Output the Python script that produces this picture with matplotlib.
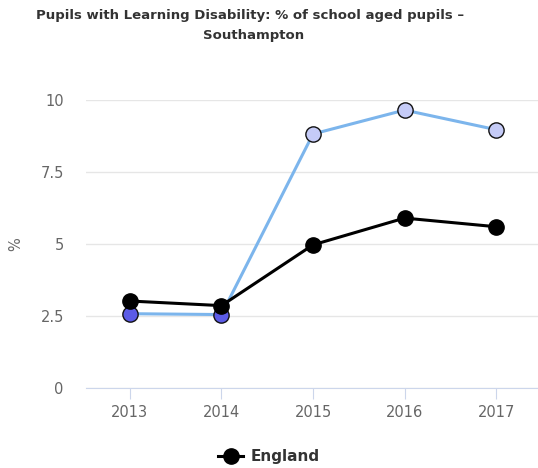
import matplotlib
matplotlib.use("Agg")
import matplotlib.pyplot as plt
from matplotlib.lines import Line2D

years = ["2013", "2014", "2015", "2016", "2017"]
england = [3.02, 2.86, 4.97, 5.90, 5.60]
southampton = [2.58, 2.55, 8.82, 9.65, 8.97]
soton_marker_colors = ["#5b5be6", "#5b5be6", "#c5cbf7", "#c5cbf7", "#c5cbf7"]
yticks = [0, 2.5, 5, 7.5, 10]
ytick_labels = ["0", "2.5", "5", "7.5", "10"]

fig = plt.figure(figsize=(5.38, 4.68), dpi=100)
ax = fig.add_axes([86/538, 1 - 388/468, (540 - 86)/538, (388 - 100)/468])

x = list(range(len(years)))
ax.plot(x, southampton, color="#7cb5ec", lw=2.2, zorder=3, clip_on=False)
for xi, yi, c in zip(x, southampton, soton_marker_colors):
    ax.plot([xi], [yi], marker="o", ms=11, mfc=c, mec="#111111", mew=1.0,
            zorder=4, clip_on=False)
ax.plot(x, england, color="black", lw=2.2, marker="o", ms=11, mfc="black",
        mec="black", zorder=5, clip_on=False)

ax.set_xlim(-0.48, 4.48)
ax.set_ylim(0, 10)
ax.set_yticks(yticks)
ax.set_yticklabels(ytick_labels)
ax.set_xticks(x)
ax.set_xticklabels(years)
ax.grid(axis="y", color="#e6e6e6", lw=1)
ax.set_axisbelow(True)
for s in ["top", "right", "left"]:
    ax.spines[s].set_visible(False)
ax.spines["bottom"].set_color("#ccd6eb")
ax.tick_params(axis="y", length=0, labelsize=10.5, labelcolor="#666666", pad=16)
ax.tick_params(axis="x", length=8, color="#ccd6eb", labelsize=10.5,
               labelcolor="#666666", pad=4)
fig.text(16/538, 1 - 244/468, "%", rotation=90, ha="center", va="center",
         fontsize=10.5, color="#666666")

fig.text(250/538, 1 - 16/468, "Pupils with Learning Disability: % of school aged pupils \u2013",
         ha="center", va="center", fontsize=9.5, fontweight="bold", color="#333333")
fig.text(254/538, 1 - 35/468, "Southampton",
         ha="center", va="center", fontsize=9.5, fontweight="bold", color="#333333")

handle = Line2D([], [], color="black", lw=2.2, marker="o", ms=11, mfc="black")
fig.legend([handle], ["England"], loc="center", bbox_to_anchor=(0.5, 1 - 457/468),
           frameon=False, prop={"weight": "bold", "size": 11},
           handlelength=1.6, handletextpad=0.5, labelcolor="#333333")

fig.savefig("out.png", dpi=100)
